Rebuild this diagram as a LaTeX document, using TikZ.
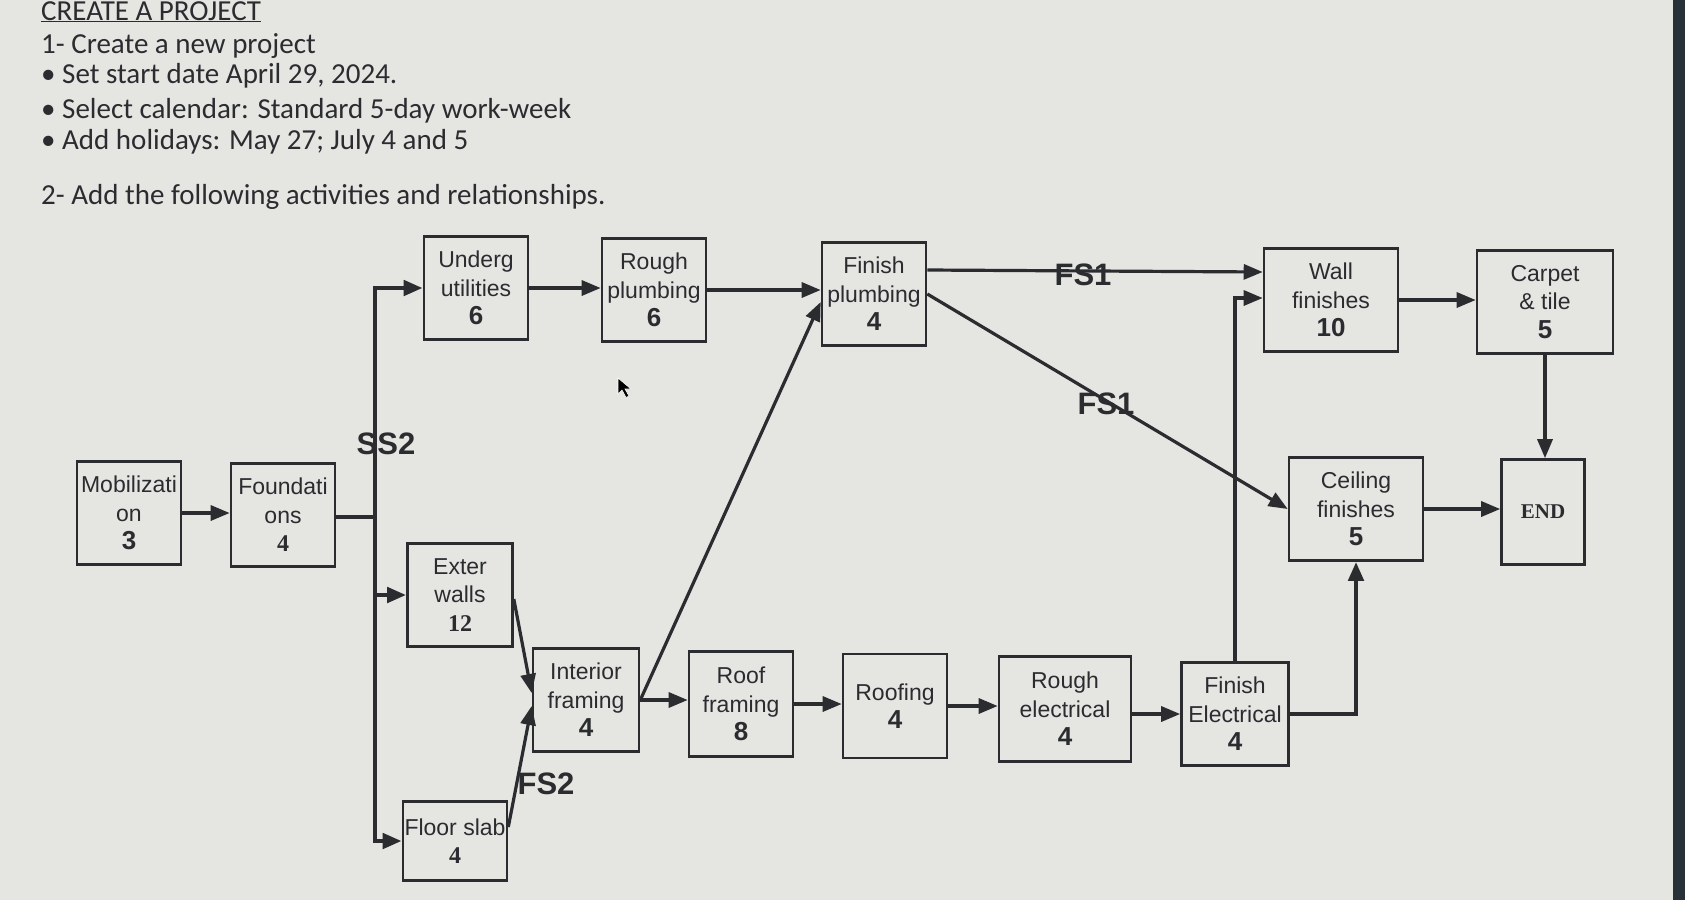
\documentclass[tikz,border=0pt]{standalone}
\usepackage{fontspec}
\newfontfamily\headfont{Carlito}
\newfontfamily\boxfont{Liberation Sans}
\newfontfamily\serfont{Liberation Serif}
\usetikzlibrary{arrows.meta}
\definecolor{paper}{RGB}{229,229,226}
\definecolor{ink}{RGB}{42,44,48}
\definecolor{bezel}{RGB}{38,50,56}
\newcommand{\dur}[1]{{\fontsize{26pt}{28.5pt}\selectfont\bfseries #1}}
\newcommand{\sdur}[1]{{\serfont\fontsize{24pt}{28.5pt}\selectfont\bfseries #1}}

\begin{document}
\begin{tikzpicture}[x=1pt, y=-1pt, >={Triangle[length=19pt,width=15pt]},
  task/.style={draw=ink, line width=2.6pt, minimum width=104pt, minimum height=103pt, inner sep=0pt, align=center, text=ink, font=\boxfont\fontsize{23pt}{28.5pt}\selectfont},
  wide/.style={task, minimum width=134pt},
  link/.style={draw=ink, line width=3.2pt, ->},
  bus/.style={link, line width=4.5pt},
  rel/.style={text=ink, inner sep=0pt, font=\boxfont\bfseries\fontsize{31pt}{31pt}\selectfont},
  head/.style={anchor=base west, inner sep=0pt, text=ink, font=\headfont\fontsize{29pt}{34pt}\selectfont}]

\fill[paper] (0,0) rectangle (1685,900);
\fill[bezel] (1673,0) rectangle (1685,900);
\useasboundingbox (0,0) rectangle (1685,900);

% instructions
\node[head] (title) at (41,20) {\underline{CREATE A PROJECT}};
\node[head] (step1) at (41,53) {1- Create a new project};
\node[head] (start) at (41,83) {• Set start date April 29, 2024.};
\node[head] (cal) at (41,118) {• Select calendar: Standard 5-day work-week};
\node[head] (hol) at (41,149) {• Add holidays: May 27; July 4 and 5};
\node[head] (step2) at (41,204) {2- Add the following activities and relationships.};

% activities
\node[task] (mob) at (129,513) {Mobilizati\\on\\\dur{3}};
\node[task] (found) at (283,515) {Foundati\\ons\\\sdur{4}};
\node[task] (underg) at (476,288) {Underg\\utilities\\\dur{6}};
\node[task] (roughp) at (654,290) {Rough\\plumbing\\\dur{6}};
\node[task] (finishp) at (874,294) {Finish\\plumbing\\\dur{4}};
\node[wide] (wall) at (1331,300) {Wall\\finishes\\\dur{10}};
\node[wide, minimum width=136pt] (carpet) at (1545,302) {Carpet\\\& tile\\\dur{5}};
\node[wide] (ceiling) at (1356,509) {Ceiling\\finishes\\\dur{5}};
\node[task, minimum width=83pt, minimum height=105pt] (endn) at (1543,512) {\serfont\bfseries\fontsize{21pt}{24pt}\selectfont END};
\node[task, minimum width=105pt] (exter) at (460,595) {Exter\\walls\\\sdur{12}};
\node[task, minimum width=106pt] (interior) at (586,700) {Interior\\framing\\\dur{4}};
\node[task, minimum height=105pt] (rooff) at (741,704) {Roof\\framing\\\dur{8}};
\node[task, minimum height=104pt] (roofing) at (895,706) {Roofing\\\dur{4}};
\node[wide, minimum width=132pt, minimum height=105pt] (roughe) at (1065,709) {Rough\\electrical\\\dur{4}};
\node[task, minimum width=107pt] (finishe) at (1235,714) {Finish\\Electrical\\\dur{4}};
\node[task, minimum height=79pt] (floor) at (455,841) {Floor slab\\\sdur{4}};

% relationship labels
\node[rel] (ss) at (386,444) {SS2};
\node[rel] (fs2) at (546,784) {FS2};
\node[rel] (fsa) at (1083,275) {FS1};
\node[rel] (fsb) at (1106,404) {FS1};

% links
\coordinate (bus) at (375,517);
\draw[link] (mob.east) -- (mob.east -| found.west);
\draw[bus] (found.east |- bus) -- (bus) |- (underg.west);
\draw[bus] (bus) |- (exter.west);
\draw[bus] (bus) |- (floor.west);
\draw[link] (underg.east) -- (underg.east -| roughp.west);
\draw[link] (roughp.east) -- (roughp.east -| finishp.west);
\draw[link] ([yshift=24pt]finishp.east) -- ([yshift=28pt]wall.west);
\draw[link] (finishp.east) -- (ceiling.west);
\draw[link] (finishe.north) |- ([yshift=2pt]wall.west);
\draw[link] (wall.east) -- (wall.east -| carpet.west);
\draw[link] (carpet.south) -- (carpet.south |- endn.north);
\draw[link] (ceiling.east) -- (ceiling.east -| endn.west);
\draw[bus] (finishe.east) -| (ceiling.south);
\draw[link] ([yshift=-4pt]exter.east) -- ([yshift=7pt]interior.west);
\draw[link] ([yshift=14pt]floor.east) -- ([yshift=-6pt]interior.west);
\draw[link] (interior.east) -- ([yshift=-8pt]finishp.west);
\draw[link] (interior.east) -- (interior.east -| rooff.west);
\draw[link] (rooff.east) -- (rooff.east -| roofing.west);
\draw[link] (roofing.east) -- (roofing.east -| roughe.west);
\draw[link] ([yshift=-5pt]roughe.east) -- (finishe.west);

% mouse pointer
\fill[black, draw=white, line width=0.6pt] (618,378) -- ++(0,16) -- ++(4,-4) -- ++(4,7.5) -- ++(3,-1.5) -- ++(-4,-7) -- ++(6,0) -- cycle;
\end{tikzpicture}
\end{document}
